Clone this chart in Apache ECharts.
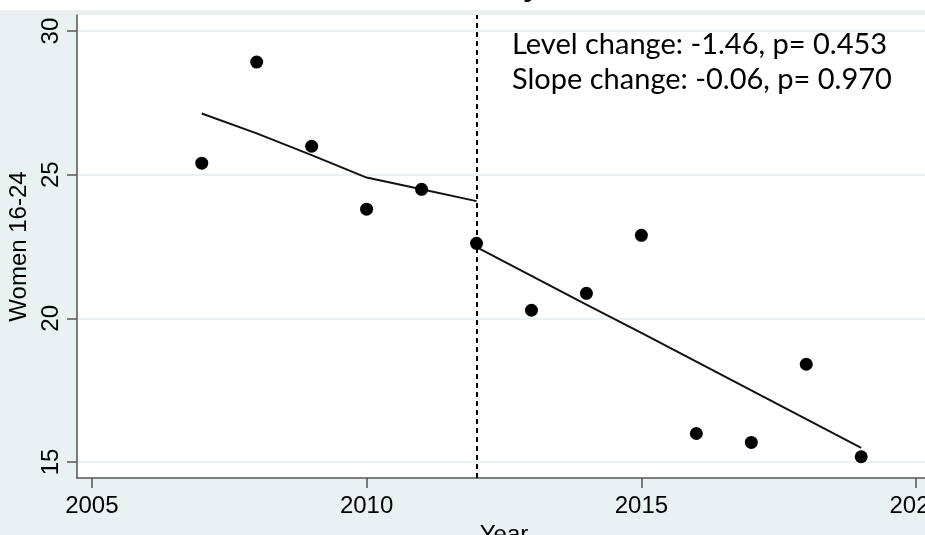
<!DOCTYPE html>
<html>
<head>
<meta charset="utf-8">
<script src="https://cdn.jsdelivr.net/npm/echarts@6/dist/echarts.min.js"></script>
<style>
  html, body { margin: 0; padding: 0; background: #ffffff; }
  #chart { width: 925px; height: 535px; }
</style>
</head>
<body>
<div id="chart"></div>
<script>
// Observed values by year
const years = [2007, 2008, 2009, 2010, 2011, 2012, 2013, 2014, 2015, 2016, 2017, 2018, 2019];
const observed = [25.40, 28.92, 25.99, 23.80, 24.49, 22.61, 20.28, 20.87, 22.89, 15.99, 15.68, 18.40, 15.18];

// Segmented regression fit, before and after the break
const preYears = [2007, 2008, 2009, 2010, 2011, 2012];
const preFit = [27.13, 26.44, 25.68, 24.90, 24.49, 24.08];
const postYears = [2012, 2013, 2014, 2015, 2016, 2017, 2018, 2019];
const postFit = [22.48, 21.48, 20.48, 19.49, 18.49, 17.49, 16.49, 15.49];

const breakYear = 2012;

const xTicks = [2005, 2010, 2015, 2020];
const yTicks = [15, 20, 25, 30];

const annotationLines = ['Level change: -1.46, p= 0.453', 'Slope change: -0.06, p= 0.970'];
const xTitle = 'Year';
const yTitle = 'Women 16-24';

const numFont = '"Liberation Sans", Arial, sans-serif';
const noteFont = '29px Lato, "Open Sans", sans-serif';
const axisColor = '#555555';
const gridColor = '#e6eef1';
const regionColor = '#eaf1f3';

const chart = echarts.init(document.getElementById('chart'), null, { renderer: 'canvas' });

chart.setOption({
  animation: false,
  backgroundColor: '#ffffff',
  graphic: [
    // chart region background below the top strip
    { type: 'rect', shape: { x: 0, y: 10, width: 925, height: 525 }, style: { fill: regionColor }, z: -10, silent: true },
    // tail of the title above the graph
    { type: 'text', x: 523, y: -27, style: { text: 'y', font: 'bold 30px ' + numFont, fill: '#000' }, z: 10 },
    { type: 'text', left: 512, top: 30, style: { text: annotationLines[0], font: noteFont, fill: '#000' }, z: 10 },
    { type: 'text', left: 512, top: 65, style: { text: annotationLines[1], font: noteFont, fill: '#000' }, z: 10 }
  ],
  grid: {
    left: 77, top: 15, right: -6, bottom: 57,
    outerBoundsMode: 'none',
    containLabel: false,
    show: true, backgroundColor: '#ffffff', borderWidth: 0
  },
  xAxis: {
    type: 'value',
    min: 2004.73, max: 2020.27,
    name: xTitle,
    nameLocation: 'middle',
    nameGap: 45,
    nameTextStyle: { fontFamily: numFont, fontSize: 24, color: '#000' },
    axisLine: { show: true, onZero: false, lineStyle: { color: axisColor, width: 1.5 } },
    axisTick: { show: true, length: 10, customValues: xTicks, lineStyle: { color: axisColor, width: 1.5 } },
    axisLabel: { customValues: xTicks, fontFamily: numFont, fontSize: 24, color: '#000', margin: 16, formatter: v => String(v) },
    splitLine: { show: false }
  },
  yAxis: {
    type: 'value',
    min: 14.44, max: 30.56,
    name: yTitle,
    nameLocation: 'middle',
    nameRotate: 90,
    nameGap: 12,
    nameTextStyle: { fontFamily: numFont, fontSize: 24, color: '#000' },
    axisLine: { show: true, onZero: false, lineStyle: { color: axisColor, width: 1.5 } },
    axisTick: { show: true, length: 10, customValues: yTicks, lineStyle: { color: axisColor, width: 1.5 } },
    axisLabel: { customValues: yTicks, rotate: 90, fontFamily: numFont, fontSize: 24, color: '#000', margin: 14, formatter: v => String(v) },
    splitLine: { show: false }
  },
  series: [
    {
      // horizontal grid lines behind the marks
      type: 'line',
      data: [],
      silent: true,
      z: 0,
      markLine: {
        silent: true,
        z: 0,
        symbol: 'none',
        label: { show: false },
        animation: false,
        data: yTicks.map(v => ({ yAxis: v })),
        lineStyle: { color: gridColor, width: 1.5, type: 'solid' }
      }
    },
    {
      // break marker
      type: 'line',
      data: [],
      silent: true,
      markLine: {
        silent: true,
        z: 5,
        symbol: 'none',
        label: { show: false },
        animation: false,
        data: [{ xAxis: breakYear }],
        lineStyle: { color: '#000', width: 2, type: [5, 4] }
      }
    },
    {
      type: 'line',
      data: preYears.map((y, i) => [y, preFit[i]]),
      symbol: 'none',
      lineStyle: { color: '#111', width: 2 },
      z: 3
    },
    {
      type: 'line',
      data: postYears.map((y, i) => [y, postFit[i]]),
      symbol: 'none',
      lineStyle: { color: '#111', width: 2 },
      z: 3
    },
    {
      type: 'scatter',
      data: years.map((y, i) => [y, observed[i]]),
      symbol: 'circle',
      symbolSize: 13,
      itemStyle: { color: '#000', opacity: 1 },
      z: 4
    }
  ]
});
</script>
</body>
</html>
